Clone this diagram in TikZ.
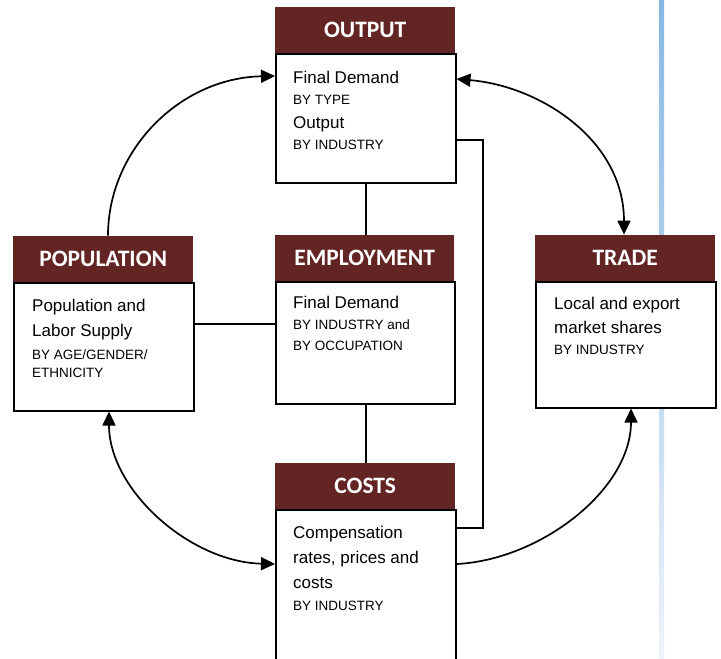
\documentclass[tikz,border=0pt]{standalone}
\usepackage{fontspec}
\setmainfont{Liberation Sans}
\newfontfamily\hdrfont{Carlito}
\usetikzlibrary{arrows.meta}
\definecolor{maroon}{HTML}{632523}
\definecolor{rulebluetop}{HTML}{86B8E4}
\definecolor{rulebluemid}{HTML}{BAD5EF}
\definecolor{rulebluebot}{HTML}{EDF3FB}
\tikzset{
  hdr/.style={fill=maroon, draw=none, inner sep=0pt, minimum height=46pt,
    minimum width=180pt, anchor=south west, text=white,
    text height=15pt, text depth=0pt,
    font=\hdrfont\bfseries\fontsize{23.5}{25}\selectfont},
  body/.style={fill=white, draw=black, line width=1.5pt, inner sep=0pt,
    minimum width=180pt, anchor=north west},
  big/.style={anchor=base west, inner sep=0pt, font=\fontsize{17}{20}\selectfont},
  small/.style={anchor=base west, inner sep=0pt, font=\fontsize{13.5}{16}\selectfont},
  link/.style={draw=black, line width=1.5pt},
  flow/.style={draw=black, line width=1.7pt},
  tip/.style={-{Triangle[length=14pt,width=13pt]}},
  twotips/.style={{Triangle[length=14pt,width=13pt]}-{Triangle[length=14pt,width=13pt]}},
}
\begin{document}
\begin{tikzpicture}[x=1pt,y=-1pt]
\useasboundingbox (0,0) rectangle (721,659);
\clip (0,0) rectangle (721,659);
\fill[white] (0,0) rectangle (721,659);

% page rule on the right
\shade[top color=rulebluetop, bottom color=rulebluebot, middle color=rulebluemid]
  (659,0) rectangle (664,659);

% OUTPUT
\node[hdr] (outH) at (275,53) {OUTPUT};
\node[body, minimum height=129pt] (outB) at (275,53) {};
\node[big]   (outT1) at (293,83)  {Final Demand};
\node[small] (outT2) at (293,104) {BY TYPE};
\node[big]   (outT3) at (293,128) {Output};
\node[small] (outT4) at (293,149) {BY INDUSTRY};

% POPULATION
\node[hdr] (popH) at (13,282) {POPULATION};
\node[body, minimum height=128pt] (popB) at (13,282) {};
\node[big]   (popT1) at (32,311) {Population and};
\node[big]   (popT2) at (32,336) {Labor Supply};
\node[small] (popT3) at (32,359) {BY AGE/GENDER/};
\node[small] (popT4) at (32,377) {ETHNICITY};

% EMPLOYMENT
\node[hdr, minimum width=179pt] (empH) at (275,281) {EMPLOYMENT};
\node[body, minimum width=179pt, minimum height=122pt] (empB) at (275,281) {};
\node[big]   (empT1) at (293,308) {Final Demand};
\node[small] (empT2) at (293,329) {BY INDUSTRY and};
\node[small] (empT3) at (293,350) {BY OCCUPATION};

% TRADE
\node[hdr] (trdH) at (535,281) {TRADE};
\node[body, minimum height=126pt] (trdB) at (535,281) {};
\node[big]   (trdT1) at (554,309) {Local and export};
\node[big]   (trdT2) at (554,333) {market shares};
\node[small] (trdT3) at (554,354) {BY INDUSTRY};

% COSTS
\node[hdr] (cstH) at (275,509) {COSTS};
\node[body, minimum height=170pt] (cstB) at (275,509) {};
\node[big]   (cstT1) at (293,538) {Compensation};
\node[big]   (cstT2) at (293,563) {rates, prices and};
\node[big]   (cstT3) at (293,588) {costs};
\node[small] (cstT4) at (293,610) {BY INDUSTRY};

% straight links
\draw[link] (outB.south) -- (empH.north -| outB.south);
\draw[link] (empB.south -| outB.south) -- (cstH.north -| outB.south);
\draw[link] (popB.east |- 0,324) -- (empB.west |- 0,324);
\coordinate (bendA) at (483,140);
\coordinate (bendB) at (483,528);
\draw[link] (outB.east |- bendA) -- (bendA) -- (bendB) -- (cstB.east |- bendB);

% curved flows
\draw[flow, tip] (popH.north -| 108,0) .. controls (108,150) and (180,78) .. (outB.west |- 0,76);
\draw[flow, twotips] (outB.east |- 0,79) .. controls (540,86) and (624,140) .. (trdH.north -| 624,0);
\draw[flow, twotips] (popB.south -| 109,0) .. controls (109,490) and (190,562) .. (cstB.west |- 0,564);
\draw[flow, tip] (cstB.east |- 0,564) .. controls (540,560) and (631,490) .. (trdB.south -| 631,0);
\end{tikzpicture}
\end{document}
